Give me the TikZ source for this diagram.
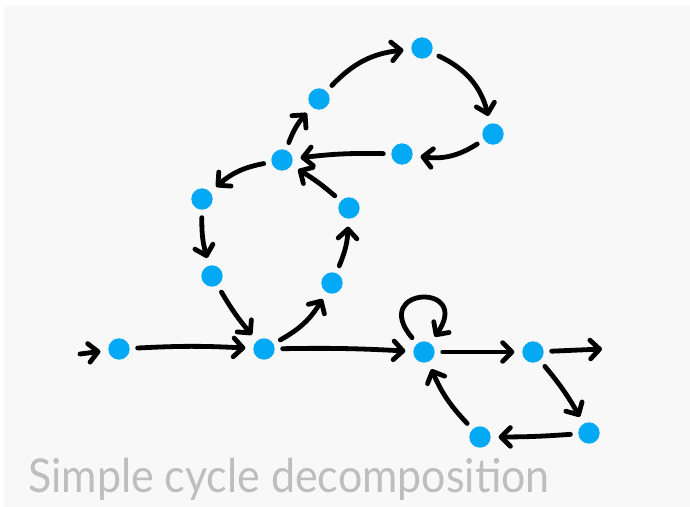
\documentclass[tikz,border=0pt]{standalone}
\usepackage{fontspec}
\newfontfamily\capfont{Lato}
\usetikzlibrary{arrows.meta}
\definecolor{dotblue}{RGB}{3,169,244}
\definecolor{paper}{RGB}{248,248,248}
\definecolor{pencil}{RGB}{190,190,190}
\begin{document}
\begin{tikzpicture}[x=0.75pt,y=-0.75pt,>={Straight Barb[round,length=7pt,width=14pt]},
  dot/.style={circle,fill=dotblue,minimum size=16pt,inner sep=0pt,outer sep=6pt},
  edge/.style={->,line width=3.6pt,line cap=round}]
% paper
\useasboundingbox (0,0) rectangle (690,507);
\fill[paper] (4,6) rectangle (690,507);
% vertices
\foreach \n/\x/\y in {n1/119/349,n2/264/349,n3/424/352,n4/533/352,n5/589/433,n6/480/437,
  n7/332/283,n8/349/208,n9/282/160,n10/202/199,n11/212/276,
  n12/319/99,n13/422/48,n14/493/134,n15/402/154}
  \node[dot] (\n) at (\x,\y) {};
\coordinate (src) at (80,354);
\coordinate (snk) at (602,349);
% main line
\draw[edge] (src) -- (n1);
\draw[edge] (n1) to[bend left=3] (n2);
\draw[edge] (n2) to[bend left=2] (n3);
\draw[edge] (n3) -- (n4);
\draw[edge] (n4) -- (snk);
% lower cycle + loop
\draw[edge] (n4) to[bend left=5] (n5);
\draw[edge] (n5) to[bend left=2] (n6);
\draw[edge] (n6) to[bend left=10] (n3);
\draw[edge] (n3) to[out=130,in=55,distance=50pt] (n3);
% left cycle
\draw[edge] (n2) to[bend right=15] (n7);
\draw[edge] (n7) to[bend right=10] (n8);
\draw[edge] (n8) to[bend right=5] (n9);
\draw[edge] (n9) to[bend right=15] (n10);
\draw[edge] (n10) to[bend right=8] (n11);
\draw[edge] (n11) to[bend right=5] (n2);
% top cycle
\draw[edge] (n9) to[bend left=10] (n12);
\draw[edge] (n12) to[bend left=20] (n13);
\draw[edge] (n13) to[bend left=25] (n14);
\draw[edge] (n14) to[bend left=20] (n15);
\draw[edge] (n15) to[bend right=4] (n9);
% caption
\node[anchor=base west,inner sep=0pt,text=pencil,xscale=0.92,font=\capfont\fontsize{35}{35}\selectfont] (cap) at (28,492) {Simple cycle decomposition};
\end{tikzpicture}
\end{document}
